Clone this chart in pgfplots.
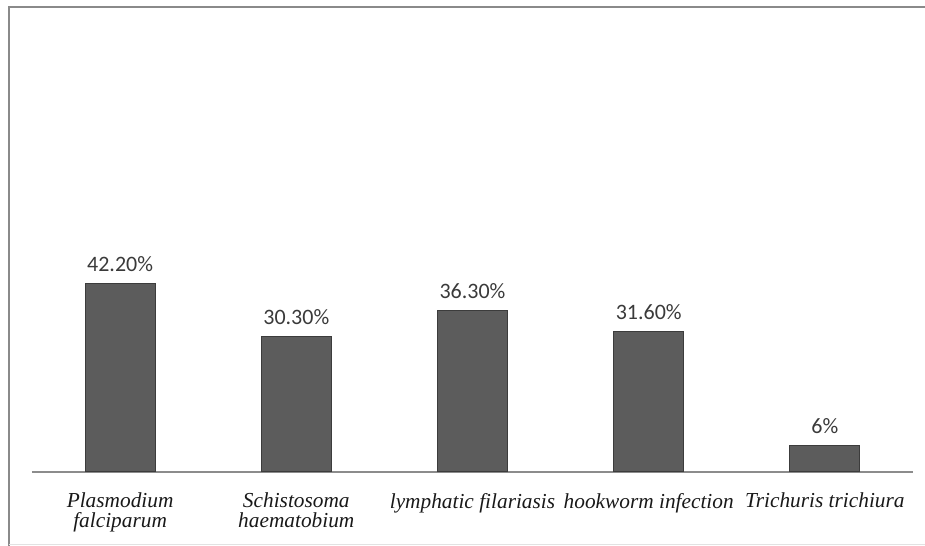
\documentclass[border=0pt]{standalone}
\usepackage{pgfplots}
\pgfplotsset{compat=1.18}
\usepackage{fontspec}
\setmainfont{Liberation Serif}
\newfontfamily\carlito{Carlito}
\definecolor{barfill}{HTML}{5C5C5C}
\definecolor{baredge}{HTML}{3C3C3C}
\definecolor{framec}{HTML}{8A8A8A}
\definecolor{lightc}{HTML}{E2E2E2}
\definecolor{axisc}{HTML}{8C8C8C}
\definecolor{valc}{HTML}{3A3A3A}
\begin{document}
\begin{tikzpicture}
\useasboundingbox (0pt,0pt) rectangle (693.75pt,409.5pt);
\draw[color=framec, line width=1.5pt] (6.375pt,0pt) -- (6.375pt,403.875pt) -- (701.25pt,403.875pt);
\draw[color=lightc, line width=0.75pt] (6.375pt,0.75pt) -- (693.75pt,0.75pt);
\begin{axis}[
  at={(24pt,55.5pt)}, anchor=south west,
  scale only axis, width=660.75pt, height=334.5pt,
  xmin=-0.5, xmax=4.5, ymin=0, ymax=100,
  axis x line*=bottom, axis y line=none,
  x axis line style={color=axisc, line width=0.9pt, -},
  xtick={0,1,2,3,4},
  xtick style={draw=none},
  ytick=\empty,
  xticklabels={{Plasmodium\\falciparum},{Schistosoma\\haematobium},{lymphatic filariasis},{hookworm infection},{Trichuris trichiura}},
  xticklabel style={font=\fontsize{16}{15}\selectfont\itshape, align=center, text=black!90, yshift=-8pt},
  ybar, bar width=52.5pt,
  nodes near coords, point meta=explicit symbolic,
  nodes near coords style={font=\carlito\fontsize{16.5}{18}\selectfont, text=valc, anchor=base, yshift=9pt, inner sep=0pt},
]
\addplot[fill=barfill, draw=baredge, line width=0.75pt] coordinates {
  (0,42.2) [42.20\%]
  (1,30.3) [30.30\%]
  (2,36.3) [36.30\%]
  (3,31.6) [31.60\%]
  (4,6.0) [6\%]
};
\end{axis}
\end{tikzpicture}
\end{document}
